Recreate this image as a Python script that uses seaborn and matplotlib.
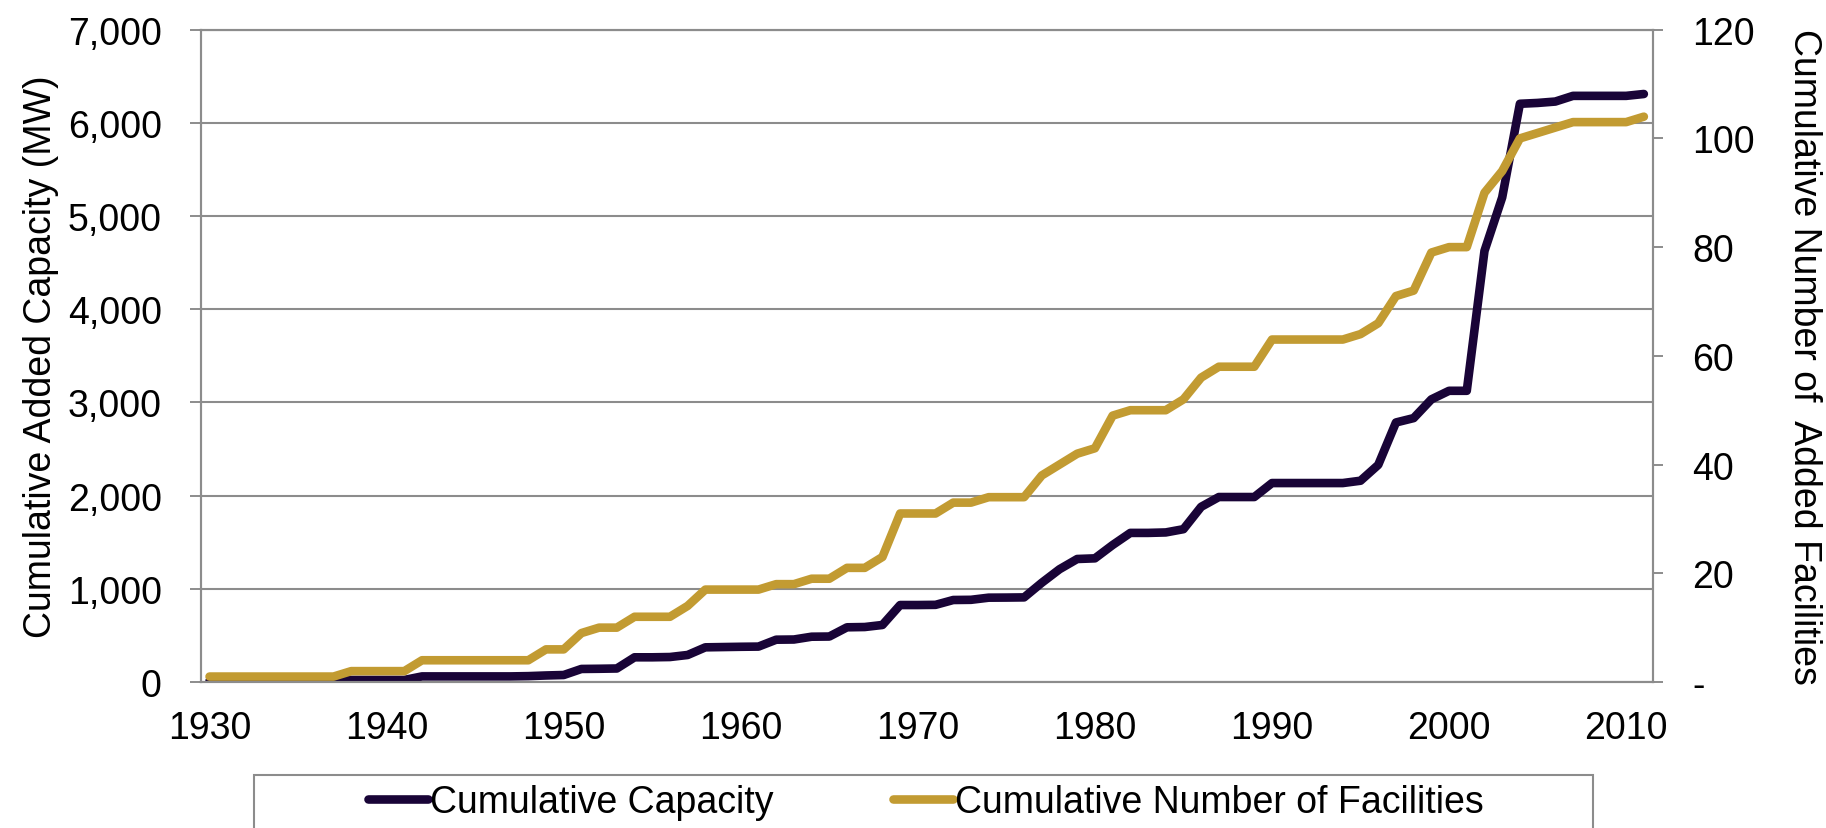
import matplotlib
matplotlib.use("Agg")
import matplotlib.pyplot as plt
import numpy as np
import pandas as pd
import seaborn as sns
from matplotlib.patches import Rectangle
from matplotlib.ticker import FixedLocator, FuncFormatter, MultipleLocator

# cumulative additions per year, 1930-2011
YEARS = list(range(1930, 2012))
CAPACITY_MW = [
    12, 12, 12, 12, 12, 12, 12, 12,
    22, 22, 22, 22,
    60, 60, 60, 60, 60, 60, 63, 70, 75,
    140, 142, 145,
    265, 265, 268, 290,
    372, 375, 378, 380,
    454, 456, 486, 488, 587, 590, 612,
    826, 826, 828, 880, 882, 905, 906, 908,
    1065, 1210, 1320, 1327, 1470,
    1600, 1600, 1605, 1640, 1880,
    1985, 1985, 1985,
    2135, 2135, 2135, 2135, 2135,
    2160, 2330, 2785, 2832, 3033, 3125, 3125,
    4626, 5200, 6205, 6214, 6229,
    6290, 6290, 6290, 6290, 6310,
]
FACILITIES = [
    1, 1, 1, 1, 1, 1, 1, 1,
    2, 2, 2, 2,
    4, 4, 4, 4, 4, 4, 4, 6, 6,
    9, 10, 10,
    12, 12, 12, 14,
    17, 17, 17, 17,
    18, 18, 19, 19, 21, 21, 23,
    31, 31, 31, 33, 33, 34, 34, 34,
    38, 40, 42, 43, 49,
    50, 50, 50, 52, 56,
    58, 58, 58,
    63, 63, 63, 63, 63,
    64, 66, 71, 72, 79, 80, 80,
    90, 94, 100, 101, 102,
    103, 103, 103, 103, 104,
]
SERIES_NAMES = ["Cumulative Capacity", "Cumulative Number of Facilities"]

DARK = "#190437"
GOLD = "#C29B32"
GRID = "#8C8C8C"
FONT_SIZE = 27

W, H = 1826, 829


def main() -> None:
    sns.set_theme(style="white")
    plt.rcParams["font.family"] = ["Liberation Sans", "DejaVu Sans"]
    plt.rcParams.update({
        "text.color": "black",
        "axes.labelcolor": "black",
        "xtick.color": "black",
        "ytick.color": "black",
    })

    df = pd.DataFrame({"year": YEARS, "capacity": CAPACITY_MW, "facilities": FACILITIES})

    fig = plt.figure(figsize=(W / 100, H / 100), dpi=100)
    ax = fig.add_axes([200.7 / W, 1 - 683 / H, 1452 / W, 652.3 / H])
    ax2 = ax.twinx()

    sns.lineplot(data=df, x="year", y="capacity", ax=ax, color=DARK, linewidth=6.2,
                 solid_capstyle="round", legend=False)
    sns.lineplot(data=df, x="year", y="facilities", ax=ax2, color=GOLD, linewidth=6.2,
                 solid_capstyle="round", legend=False)

    ax.set_xlim(1929.5, 2011.5)
    ax.set_ylim(0, 7000)
    ax2.set_ylim(0, 120)

    ax.yaxis.set_major_locator(MultipleLocator(1000))
    ax2.yaxis.set_major_locator(MultipleLocator(20))
    ax.yaxis.set_major_formatter(FuncFormatter(lambda v, p: f"{v:,.0f}"))
    ax2.yaxis.set_major_formatter(FuncFormatter(lambda v, p: "-" if v == 0 else f"{v:.0f}"))

    ax.xaxis.set_major_locator(FixedLocator(YEARS[::10]))
    ax.xaxis.set_minor_locator(FixedLocator(np.arange(1929.5, 2012, 1)))
    ax.tick_params(axis="x", which="major", length=0, pad=20, labelsize=FONT_SIZE)
    ax.tick_params(axis="x", which="minor", length=7.5, width=1.4, color=GRID, direction="out")
    ax.tick_params(axis="y", which="major", left=True, length=8, width=1.4, color=GRID,
                   direction="out", pad=20, labelsize=FONT_SIZE)
    ax2.tick_params(axis="y", which="major", right=True, length=7.5, width=1.4, color=GRID,
                    direction="out", pad=21, labelsize=FONT_SIZE)

    ax.yaxis.grid(True, color=GRID, linewidth=1.5)
    ax.xaxis.grid(False)
    ax2.grid(False)
    for a in (ax, ax2):
        for spine in a.spines.values():
            spine.set_color(GRID)
            spine.set_linewidth(1.5)

    ax.set_xlabel("")
    ax.set_ylabel("Cumulative Added Capacity (MW)", fontsize=FONT_SIZE, va="center")
    ax.yaxis.set_label_coords(-0.11, 0.5)
    ax2.set_ylabel("Cumulative Number of  Added Facilities", fontsize=FONT_SIZE, rotation=270,
                   va="center")
    ax2.yaxis.set_label_coords(1.1045, 0.5)

    handles = [ax.get_lines()[0], ax2.get_lines()[0]]
    fig.legend(handles, SERIES_NAMES, loc="center", bbox_to_anchor=(926 / W, 1 - 803 / H),
               ncol=2, frameon=False, fontsize=FONT_SIZE, handlelength=1.6,
               handletextpad=0.05, columnspacing=3.2)
    fig.patches.append(Rectangle((254 / W, -0.05), (1593 - 254) / W, 0.05 + (829 - 776) / H,
                                 transform=fig.transFigure, fill=False, edgecolor=GRID,
                                 linewidth=1.5))

    fig.savefig("out.png", dpi=100)
    plt.close(fig)


if __name__ == "__main__":
    main()
